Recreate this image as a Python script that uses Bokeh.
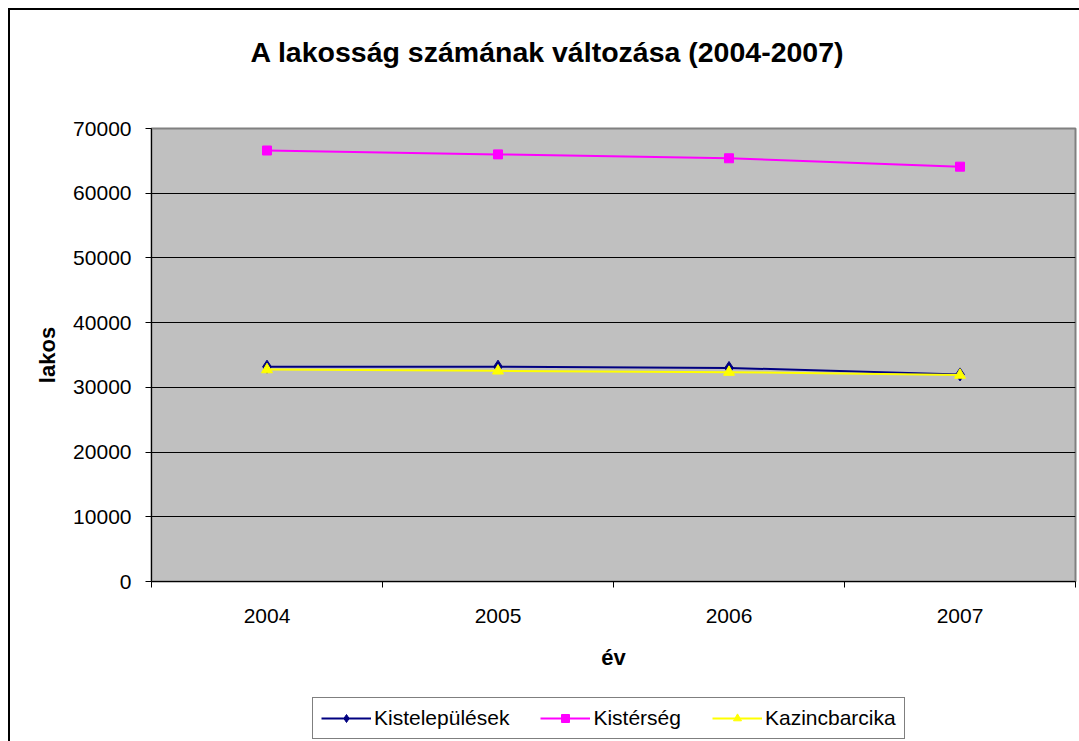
from bokeh.plotting import figure
from bokeh.models import Range1d, FixedTicker, Legend, LegendItem
from bokeh.layouts import column
from bokeh.embed import file_html
from bokeh.resources import INLINE

years = [2004, 2005, 2006, 2007]
year_labels = ["2004", "2005", "2006", "2007"]
y_ticks = [0, 10000, 20000, 30000, 40000, 50000, 60000, 70000]
kistelepulesek = [33200, 33200, 33000, 32000]
kisterseg = [66600, 66000, 65400, 64100]
kazincbarcika = [32750, 32550, 32350, 31900]
series_names = ["Kistelepülések", "Kistérség", "Kazincbarcika"]
title_text = "A lakosság számának változása (2004-2007)"

FONT = "Liberation Sans"
COLORS = ["#000080", "#FF00FF", "#FFFF00"]
MARKERS = [("diamond", 13), ("square", 9), ("triangle", 11)]
SERIES = [kistelepulesek, kisterseg, kazincbarcika]

# ---- title strip ----
tt = figure(width=1071, height=100, output_backend="svg", toolbar_location=None,
            x_range=Range1d(0, 1), y_range=Range1d(0, 1),
            x_axis_type=None, y_axis_type=None,
            min_border_left=0, min_border_right=0, min_border_bottom=0,
            min_border_top=62, margin=(8, 0, 0, 8))
tt.styles = {"border-left": "2px solid black", "border-top": "2px solid black"}
tt.outline_line_color = None
tt.background_fill_color = "white"
tt.border_fill_color = "white"
tt.title.text = title_text
tt.title.text_font = FONT
tt.title.text_font_size = "28.5px"
tt.title.text_font_style = "bold"
tt.title.text_color = "black"
tt.title.align = "left"
tt.title.offset = 99
tt.title.standoff = 10

# ---- main chart ----
p = figure(width=1071, height=582, output_backend="svg", toolbar_location=None,
           title=None,
           x_range=Range1d(2003.5, 2007.5), y_range=Range1d(0, 70000),
           min_border_left=141, min_border_right=6, min_border_top=20,
           min_border_bottom=109, margin=(0, 0, 0, 8))
p.styles = {"border-left": "2px solid black"}
p.background_fill_color = "#C0C0C0"
p.border_fill_color = "white"
p.outline_line_color = "#808080"
p.outline_line_width = 2

p.xaxis.ticker = FixedTicker(ticks=years, minor_ticks=[y - 0.5 for y in years] + [years[-1] + 0.5])
p.xaxis.major_label_overrides = {y: l for y, l in zip(years, year_labels)}
p.xaxis.major_tick_out = 6
p.xaxis.major_tick_in = 0
p.xaxis.major_tick_line_color = None
p.xaxis.minor_tick_out = 6
p.xaxis.minor_tick_in = 0
p.xaxis.minor_tick_line_color = "black"
p.xaxis.axis_line_color = "black"
p.xaxis.major_label_standoff = 21
p.xaxis.axis_label = "év"
p.xaxis.axis_label_standoff = 19

p.yaxis.ticker = FixedTicker(ticks=y_ticks)
p.yaxis.major_tick_out = 6
p.yaxis.major_tick_in = 0
p.yaxis.major_tick_line_color = "black"
p.yaxis.minor_tick_line_color = None
p.yaxis.axis_line_color = "black"
p.yaxis.major_label_standoff = 14
p.yaxis.axis_label = "lakos"
p.yaxis.axis_label_standoff = 10

for ax in (p.xaxis, p.yaxis):
    ax.major_label_text_font = FONT
    ax.major_label_text_font_size = "21px"
    ax.major_label_text_color = "black"
    ax.axis_label_text_font = FONT
    ax.axis_label_text_font_size = "22px"
    ax.axis_label_text_font_style = "bold"
    ax.axis_label_text_color = "black"
    ax.axis_line_width = 1

p.xgrid.grid_line_color = None
p.ygrid.grid_line_color = "black"
p.ygrid.grid_line_width = 1

for vals, c, (mk, sz) in zip(SERIES, COLORS, MARKERS):
    p.line(years, vals, line_color=c, line_width=2)
    p.scatter(years, vals, marker=mk, size=sz, fill_color=c, line_color=c)

# ---- legend strip (series drawn outside its visible range, only the key shows) ----
lg = figure(width=1071, height=51, output_backend="svg", toolbar_location=None,
            x_range=Range1d(0, 1), y_range=Range1d(0, 1),
            x_axis_type=None, y_axis_type=None, min_border=0,
            margin=(0, 0, 0, 8))
lg.styles = {"border-left": "2px solid black"}
lg.outline_line_color = None
lg.background_fill_color = "white"
lg.border_fill_color = "white"
items = []
for name, vals, c, (mk, sz) in zip(series_names, SERIES, COLORS, MARKERS):
    r1 = lg.line(years, vals, line_color=c, line_width=2)
    r2 = lg.scatter(years, vals, marker=mk, size=sz, fill_color=c, line_color=c)
    items.append(LegendItem(label=name, renderers=[r1, r2]))

legend = Legend(items=items, orientation="horizontal", location=(161, 2),
                label_text_font=FONT, label_text_font_size="21px",
                label_text_color="black",
                border_line_color="black", border_line_width=1,
                background_fill_color="white", background_fill_alpha=1,
                glyph_width=50, label_standoff=3, spacing=31, padding=8, margin=0)
lg.add_layout(legend, "center")

layout = column(tt, p, lg, spacing=0)
open("out.html", "w").write(file_html(layout, INLINE))
